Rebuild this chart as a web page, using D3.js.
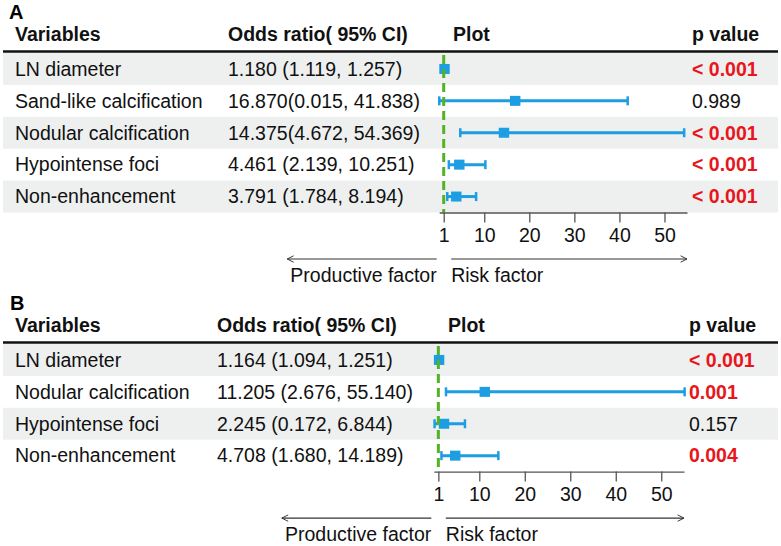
<!DOCTYPE html>
<html>
<head>
<meta charset="utf-8">
<script src="https://cdn.jsdelivr.net/npm/d3@7"></script>
<style>
  body { margin: 0; background: #fff; }
  text { font-family: "Liberation Sans", Arial, Helvetica, sans-serif; }
</style>
</head>
<body>
<div id="chart"></div>
<script>
// Panel A data
var varsA = ["LN diameter", "Sand-like calcification", "Nodular calcification", "Hypointense foci", "Non-enhancement"];
var orTextA = ["1.180 (1.119, 1.257)", "16.870(0.015, 41.838)", "14.375(4.672, 54.369)", "4.461 (2.139, 10.251)", "3.791 (1.784, 8.194)"];
var orA = [1.180, 16.870, 14.375, 4.461, 3.791];
var loA = [1.119, 0.015, 4.672, 2.139, 1.784];
var hiA = [1.257, 41.838, 54.369, 10.251, 8.194];
var pA = ["< 0.001", "0.989", "< 0.001", "< 0.001", "< 0.001"];
var sigA = [true, false, true, true, true];

// Panel B data
var varsB = ["LN diameter", "Nodular calcification", "Hypointense foci", "Non-enhancement"];
var orTextB = ["1.164 (1.094, 1.251)", "11.205 (2.676, 55.140)", "2.245 (0.172, 6.844)", "4.708 (1.680, 14.189)"];
var orB = [1.164, 11.205, 2.245, 4.708];
var loB = [1.094, 2.676, 0.172, 1.680];
var hiB = [1.251, 55.140, 6.844, 14.189];
var pB = ["< 0.001", "0.001", "0.157", "0.004"];
var sigB = [true, true, false, true];

var tickVals = [1, 10, 20, 30, 40, 50];

var width = 781, height = 546;
var blue = "#1D9DE2", green = "#52B324", red = "#E8161B";

var svg = d3.select("#chart").append("svg")
    .attr("width", width)
    .attr("height", height);

// open chevron arrow head, oriented along the line
svg.append("defs").append("marker")
    .attr("id", "arr")
    .attr("viewBox", "0 0 10 10")
    .attr("refX", 9)
    .attr("refY", 5)
    .attr("markerWidth", 8)
    .attr("markerHeight", 8)
    .attr("markerUnits", "userSpaceOnUse")
    .attr("orient", "auto")
    .append("path")
    .attr("d", "M1,1L9,5L1,9")
    .attr("fill", "none")
    .attr("stroke", "#333")
    .attr("stroke-width", 1.2);

function drawPanel(p) {
    var g = svg.append("g").attr("transform", "translate(0," + p.top + ")");
    var rows = p.vars.map(function(v, i){
        return { v: v, txt: p.orText[i], or: p.or[i], lo: p.lo[i], hi: p.hi[i], p: p.p[i], sig: p.sig[i], i: i };
    });

    var y = d3.scaleBand().domain(p.vars).range([53, 53 + 31.9 * p.vars.length]);
    var x = d3.scaleLinear().domain([0, 55]).range(p.xRange);
    var axisY = y.range()[1];

    // shaded rows
    g.selectAll(".shade").data(rows.filter(function(d){ return d.i % 2 == 0; }))
        .enter().append("rect")
        .attr("x", 3).attr("width", 775)
        .attr("y", function(d){ return y(d.v); })
        .attr("height", y.bandwidth())
        .attr("fill", "#EEF0F0");

    // panel letter
    g.append("text").attr("x", p.letterX).attr("y", 19)
        .attr("font-size", "20px").attr("font-weight", "bold")
        .text(p.letter);

    // header
    var hdr = [["Variables", 15], ["Odds ratio( 95% CI)", p.orX], ["Plot", p.plotX], ["p value", p.pX]];
    g.selectAll(".hdr").data(hdr).enter().append("text")
        .attr("x", function(d){ return d[1]; })
        .attr("y", 41)
        .attr("font-size", "19.5px").attr("font-weight", "bold")
        .attr("fill", "#111")
        .text(function(d){ return d[0]; });

    g.append("line").attr("x1", 3).attr("x2", 778)
        .attr("y1", 51.5).attr("y2", 51.5)
        .attr("stroke", "#111").attr("stroke-width", 2.6);

    // row texts
    var rowG = g.selectAll(".row").data(rows).enter().append("g")
        .attr("transform", function(d){ return "translate(0," + (y(d.v) + y.bandwidth() / 2) + ")"; });
    rowG.append("text").attr("x", 15).attr("dy", "0.35em")
        .attr("font-size", "19.5px").attr("fill", "#111")
        .text(function(d){ return d.v; });
    rowG.append("text").attr("x", p.orX).attr("dy", "0.35em")
        .attr("font-size", "19.5px").attr("fill", "#111")
        .text(function(d){ return d.txt; });
    rowG.append("text").attr("x", p.pX).attr("dy", "0.35em")
        .attr("font-size", "19.5px")
        .attr("font-weight", function(d){ return d.sig ? "bold" : "normal"; })
        .attr("fill", function(d){ return d.sig ? red : "#111"; })
        .text(function(d){ return d.p; });

    // reference line at OR = 1
    g.append("line")
        .attr("x1", x(1)).attr("x2", x(1))
        .attr("y1", y.range()[0] + 2).attr("y2", axisY)
        .attr("stroke", green).attr("stroke-width", 3)
        .attr("stroke-dasharray", "9,5");

    // CI lines, caps, squares
    rowG.append("line")
        .attr("x1", function(d){ return x(d.lo); })
        .attr("x2", function(d){ return x(d.hi); })
        .attr("stroke", blue).attr("stroke-width", 3);
    rowG.selectAll(".cap").data(function(d){ return [d.lo, d.hi]; })
        .enter().append("line")
        .attr("x1", function(d){ return x(d); })
        .attr("x2", function(d){ return x(d); })
        .attr("y1", -4.5).attr("y2", 4.5)
        .attr("stroke", blue).attr("stroke-width", 2.5);
    rowG.append("rect")
        .attr("x", function(d){ return x(d.or) - 5.2; })
        .attr("y", -5)
        .attr("width", 10.4).attr("height", 10)
        .attr("fill", blue);

    // axis
    var axis = d3.axisBottom(x).tickValues(tickVals)
        .tickSizeInner(10).tickSizeOuter(0).tickPadding(6)
        .tickFormat(d3.format("d"));
    var ax = g.append("g").attr("transform", "translate(0," + axisY + ")").call(axis);
    ax.select(".domain").attr("stroke", "#555").attr("stroke-width", 1.3);
    ax.selectAll(".tick line").attr("stroke", "#555").attr("stroke-width", 1.3);
    ax.selectAll(".tick text").attr("font-size", "19.5px").attr("fill", "#111")
        .attr("font-family", "Liberation Sans, Arial, sans-serif");

    // direction arrows
    var arrY = axisY + 46.5;
    g.append("line")
        .attr("x1", x(0) - 2.5).attr("x2", x(0) - 152)
        .attr("y1", arrY).attr("y2", arrY)
        .attr("stroke", "#333").attr("stroke-width", 1.2)
        .attr("marker-end", "url(#arr)");
    g.append("line")
        .attr("x1", x(0) + 12).attr("x2", x.range()[1])
        .attr("y1", arrY).attr("y2", arrY)
        .attr("stroke", "#333").attr("stroke-width", 1.2)
        .attr("marker-end", "url(#arr)");
    g.append("text").attr("x", x(0) - 2.5).attr("y", axisY + 69)
        .attr("text-anchor", "end").attr("font-size", "19.5px").attr("fill", "#111")
        .text("Productive factor");
    g.append("text").attr("x", x(0) + 12).attr("y", axisY + 69)
        .attr("font-size", "19.5px").attr("fill", "#111")
        .text("Risk factor");
}

drawPanel({ top: 0, letter: "A", letterX: 9, vars: varsA, orText: orTextA, or: orA, lo: loA, hi: hiA, p: pA, sig: sigA,
    orX: 228, plotX: 453, pX: 692, xRange: [439.2, 687] });
drawPanel({ top: 291, letter: "B", letterX: 10, vars: varsB, orText: orTextB, or: orB, lo: loB, hi: hiB, p: pB, sig: sigB,
    orX: 217, plotX: 448, pX: 689, xRange: [433.8, 684] });
</script>
</body>
</html>
